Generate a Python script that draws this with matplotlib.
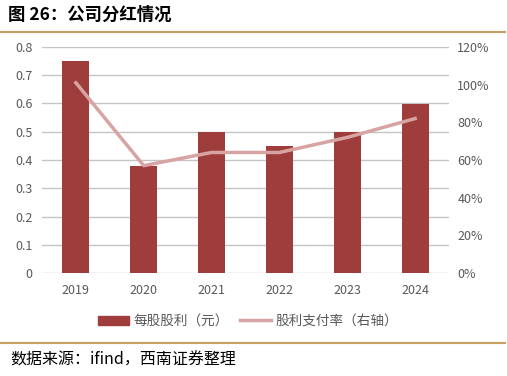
import matplotlib.pyplot as plt
import numpy as np
from matplotlib.lines import Line2D

plt.rcParams['font.family'] = ['Noto Sans CJK SC', 'DejaVu Sans']

years = ['2019', '2020', '2021', '2022', '2023', '2024']
dps = [0.75, 0.38, 0.50, 0.45, 0.50, 0.60]          # 每股股利（元）
payout = [1.01, 0.57, 0.64, 0.64, 0.72, 0.82]       # 股利支付率

bar_color = '#9E3D3B'
line_color = '#D8A3A3'
tick_color = '#595959'

fig = plt.figure(figsize=(5.07, 3.76), dpi=100)
ax = fig.add_axes([42 / 507, 103 / 376, 407 / 507, 226 / 376])
x = np.arange(len(years))

ax.bar(x, dps, width=0.4, color=bar_color, zorder=3, label='每股股利（元）')
ax.set_ylim(0, 0.8)
ax.set_yticks(np.arange(0, 0.81, 0.1))
ax.set_yticklabels(['0'] + ['%.1f' % v for v in np.arange(0.1, 0.81, 0.1)])
ax.set_xlim(-0.5, len(years) - 0.5)
ax.set_xticks(x)
ax.set_xticklabels(years)
ax.grid(axis='y', color='#C4C4C4', linewidth=1.0, zorder=0)
for s in ax.spines.values():
    s.set_visible(False)
ax.tick_params(axis='both', length=0, labelsize=9, colors=tick_color)
ax.tick_params(axis='x', pad=8)
ax.tick_params(axis='y', pad=7)

ax2 = ax.twinx()
ax2.plot(x, payout, color=line_color, linewidth=2.5, zorder=4, label='股利支付率（右轴）')
ax2.set_ylim(0, 1.2)
ax2.set_yticks(np.arange(0, 1.21, 0.2))
ax2.set_yticklabels(['%d%%' % round(v * 100) for v in np.arange(0, 1.21, 0.2)])
for s in ax2.spines.values():
    s.set_visible(False)
ax2.tick_params(axis='y', length=0, labelsize=9, colors=tick_color, pad=6)

handles = [plt.Rectangle((0, 0), 1, 1, color=bar_color),
           Line2D([0], [0], color=line_color, linewidth=2.5)]
fig.legend(handles, ['每股股利（元）', '股利支付率（右轴）'], loc='center',
           bbox_to_anchor=(248 / 507, 1 - 321 / 376), ncol=2, frameon=False,
           fontsize=9.8, labelcolor=tick_color, handlelength=2.3, handleheight=0.6,
           columnspacing=0.8, handletextpad=0.3)

fig.text(8 / 507, 1 - 15 / 376, '图 26：公司分红情况', fontsize=12.5, fontweight='bold',
         va='center', ha='left', color='#000000')
fig.add_artist(Line2D([0, 505 / 507], [1 - 32 / 376, 1 - 32 / 376], color='#C9A063', linewidth=1.5))
fig.add_artist(Line2D([0, 505 / 507], [1 - 343 / 376, 1 - 343 / 376], color='#C9A063', linewidth=1.5))
fig.text(10 / 507, 1 - 360 / 376, '数据来源：ifind，西南证券整理', fontsize=11.5, style='italic',
         va='center', ha='left', color='#000000')

fig.savefig('out.png', dpi=100)
